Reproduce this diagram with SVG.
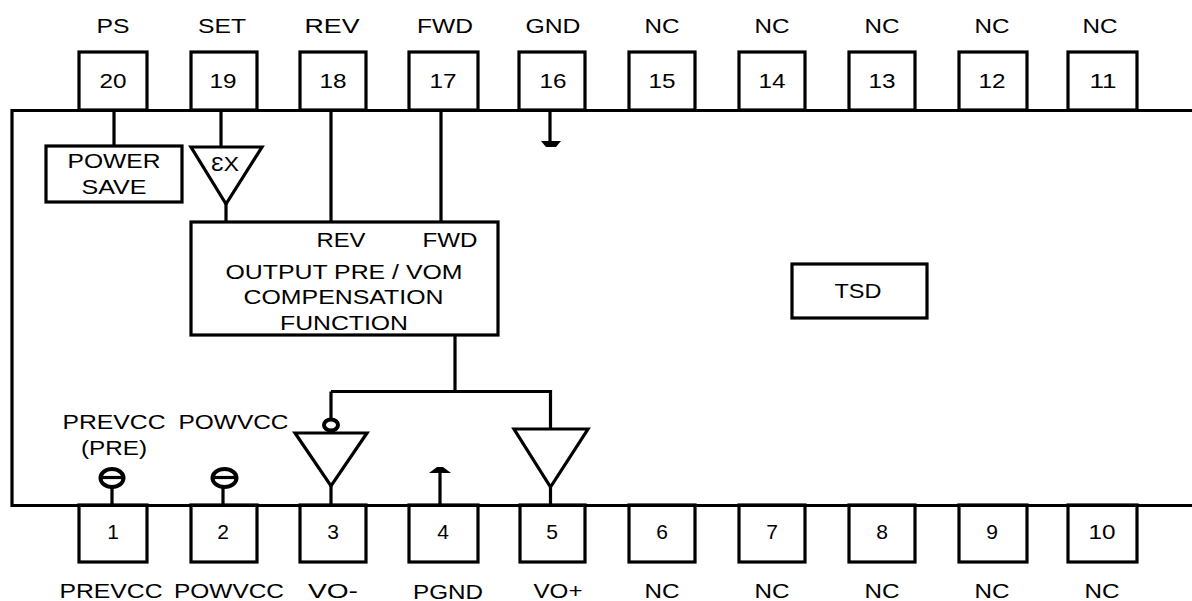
<svg xmlns="http://www.w3.org/2000/svg" width="1192" height="601" viewBox="0 0 1192 601">
<style>
.l{fill:none;stroke:#000;stroke-width:3.2;stroke-linejoin:miter}
.t{fill:none;stroke:#000;stroke-width:4}
.k{fill:#000;stroke:none}
text{font-family:"Liberation Sans",Arial,sans-serif;font-size:21px;fill:#000;text-anchor:middle}
</style>
<rect width="1192" height="601" fill="#fff"/>
<g id="chip"><path class="l" d="M1194 110.5H12V505.5H1194"/></g>
<g id="pin20"><rect class="l" x="79" y="52" width="68" height="58"/><text x="113" y="88" textLength="27" lengthAdjust="spacingAndGlyphs">20</text><text x="113" y="33" textLength="33" lengthAdjust="spacingAndGlyphs">PS</text></g>
<g id="pin19"><rect class="l" x="191" y="52" width="66" height="58"/><text x="223" y="88" textLength="27" lengthAdjust="spacingAndGlyphs">19</text><text x="222" y="33" textLength="48" lengthAdjust="spacingAndGlyphs">SET</text></g>
<g id="pin18"><rect class="l" x="300" y="52" width="66" height="58"/><text x="333" y="88" textLength="27" lengthAdjust="spacingAndGlyphs">18</text><text x="332" y="33" textLength="55" lengthAdjust="spacingAndGlyphs">REV</text></g>
<g id="pin17"><rect class="l" x="409" y="52" width="69" height="58"/><text x="443" y="88" textLength="27" lengthAdjust="spacingAndGlyphs">17</text><text x="445" y="33" textLength="56" lengthAdjust="spacingAndGlyphs">FWD</text></g>
<g id="pin16"><rect class="l" x="519" y="52" width="66" height="58"/><text x="553" y="88" textLength="27" lengthAdjust="spacingAndGlyphs">16</text><text x="553" y="33" textLength="55" lengthAdjust="spacingAndGlyphs">GND</text></g>
<g id="pin15"><rect class="l" x="629" y="52" width="66" height="58"/><text x="662" y="88" textLength="27" lengthAdjust="spacingAndGlyphs">15</text><text x="662" y="33" textLength="35" lengthAdjust="spacingAndGlyphs">NC</text></g>
<g id="pin14"><rect class="l" x="739" y="52" width="66" height="58"/><text x="772" y="88" textLength="27" lengthAdjust="spacingAndGlyphs">14</text><text x="772" y="33" textLength="35" lengthAdjust="spacingAndGlyphs">NC</text></g>
<g id="pin13"><rect class="l" x="849" y="52" width="66" height="58"/><text x="882" y="88" textLength="27" lengthAdjust="spacingAndGlyphs">13</text><text x="882" y="33" textLength="35" lengthAdjust="spacingAndGlyphs">NC</text></g>
<g id="pin12"><rect class="l" x="959" y="52" width="68" height="58"/><text x="992" y="88" textLength="27" lengthAdjust="spacingAndGlyphs">12</text><text x="992" y="33" textLength="35" lengthAdjust="spacingAndGlyphs">NC</text></g>
<g id="pin11"><rect class="l" x="1068" y="52" width="69" height="58"/><text x="1103" y="88" textLength="27" lengthAdjust="spacingAndGlyphs">11</text><text x="1100" y="33" textLength="35" lengthAdjust="spacingAndGlyphs">NC</text></g>
<g id="pin1"><rect class="l" x="79" y="505" width="68" height="57"/><text x="113" y="539">1</text><text x="111" y="598" textLength="103" lengthAdjust="spacingAndGlyphs">PREVCC</text></g>
<g id="pin2"><rect class="l" x="191" y="505" width="66" height="57"/><text x="223" y="539">2</text><text x="229" y="598" textLength="110" lengthAdjust="spacingAndGlyphs">POWVCC</text></g>
<g id="pin3"><rect class="l" x="300" y="505" width="66" height="57"/><text x="333" y="539">3</text><text x="333" y="598" textLength="50" lengthAdjust="spacingAndGlyphs">VO-</text></g>
<g id="pin4"><rect class="l" x="409" y="505" width="69" height="57"/><text x="443" y="539">4</text><text x="448" y="599" textLength="70" lengthAdjust="spacingAndGlyphs">PGND</text></g>
<g id="pin5"><rect class="l" x="520" y="505" width="65" height="57"/><text x="552" y="539">5</text><text x="558" y="598" textLength="49" lengthAdjust="spacingAndGlyphs">VO+</text></g>
<g id="pin6"><rect class="l" x="629" y="505" width="66" height="57"/><text x="662" y="539">6</text><text x="662" y="598" textLength="35" lengthAdjust="spacingAndGlyphs">NC</text></g>
<g id="pin7"><rect class="l" x="739" y="505" width="66" height="57"/><text x="772" y="539">7</text><text x="772" y="598" textLength="35" lengthAdjust="spacingAndGlyphs">NC</text></g>
<g id="pin8"><rect class="l" x="849" y="505" width="66" height="57"/><text x="882" y="539">8</text><text x="882" y="598" textLength="35" lengthAdjust="spacingAndGlyphs">NC</text></g>
<g id="pin9"><rect class="l" x="959" y="505" width="68" height="57"/><text x="992" y="539">9</text><text x="992" y="598" textLength="35" lengthAdjust="spacingAndGlyphs">NC</text></g>
<g id="pin10"><rect class="l" x="1068" y="505" width="69" height="57"/><text x="1102" y="539" textLength="27" lengthAdjust="spacingAndGlyphs">10</text><text x="1102" y="598" textLength="35" lengthAdjust="spacingAndGlyphs">NC</text></g>
<g id="connectors">
<path class="l" d="M114 110V146M221 110V147M226 203V222M331 110V222M441 110V222M550 110V142M455 335V391.500M331 391.500H550.500V429M331 391.500V419M331 485V505M550.500 485V505M440 472V505M112 487V505M223 487V505"/>
</g>
<g id="power-save"><rect class="l" x="46" y="146" width="136" height="56"/><text x="114" y="168" textLength="93" lengthAdjust="spacingAndGlyphs">POWER</text><text x="114" y="194" textLength="65" lengthAdjust="spacingAndGlyphs">SAVE</text></g>
<g id="amp-x3"><path class="l" d="M191 147H262L226 204Z"/><text transform="translate(225 171) scale(-1 1)" textLength="28" lengthAdjust="spacingAndGlyphs">X3</text></g>
<g id="output-block"><rect class="l" x="191" y="222" width="307" height="113"/><text x="341" y="247" textLength="49" lengthAdjust="spacingAndGlyphs">REV</text><text x="450" y="247" textLength="55" lengthAdjust="spacingAndGlyphs">FWD</text><text x="344" y="279" textLength="237" lengthAdjust="spacingAndGlyphs">OUTPUT PRE / VOM</text><text x="343.500" y="304" textLength="200" lengthAdjust="spacingAndGlyphs">COMPENSATION</text><text x="344" y="330" textLength="128" lengthAdjust="spacingAndGlyphs">FUNCTION</text></g>
<g id="tsd"><rect class="l" x="792" y="264" width="135" height="54"/><text x="858" y="298" textLength="47" lengthAdjust="spacingAndGlyphs">TSD</text></g>
<g id="gnd16"><path class="k" d="M541 141H561L556 147H546Z"/></g>
<g id="gnd4"><path class="k" d="M429 473H451L447 470L443 467H437L433 470Z"/></g>
<g id="amp-minus"><path class="l" d="M295 433H367L331 486Z"/><ellipse class="t" cx="331" cy="425" rx="7" ry="5.500"/></g>
<g id="amp-plus"><path class="l" d="M514 429H588L550.500 487Z"/></g>
<g id="vcc1"><ellipse class="t" cx="112" cy="478" rx="11.500" ry="9"/><path class="l" d="M100 477.500H124"/><text x="114" y="429" textLength="103" lengthAdjust="spacingAndGlyphs">PREVCC</text><text x="114" y="455" textLength="66" lengthAdjust="spacingAndGlyphs">(PRE)</text></g>
<g id="vcc2"><ellipse class="t" cx="224.500" cy="478" rx="12" ry="9"/><path class="l" d="M212 477.500H238"/><text x="233.500" y="429" textLength="110" lengthAdjust="spacingAndGlyphs">POWVCC</text></g>
</svg>
